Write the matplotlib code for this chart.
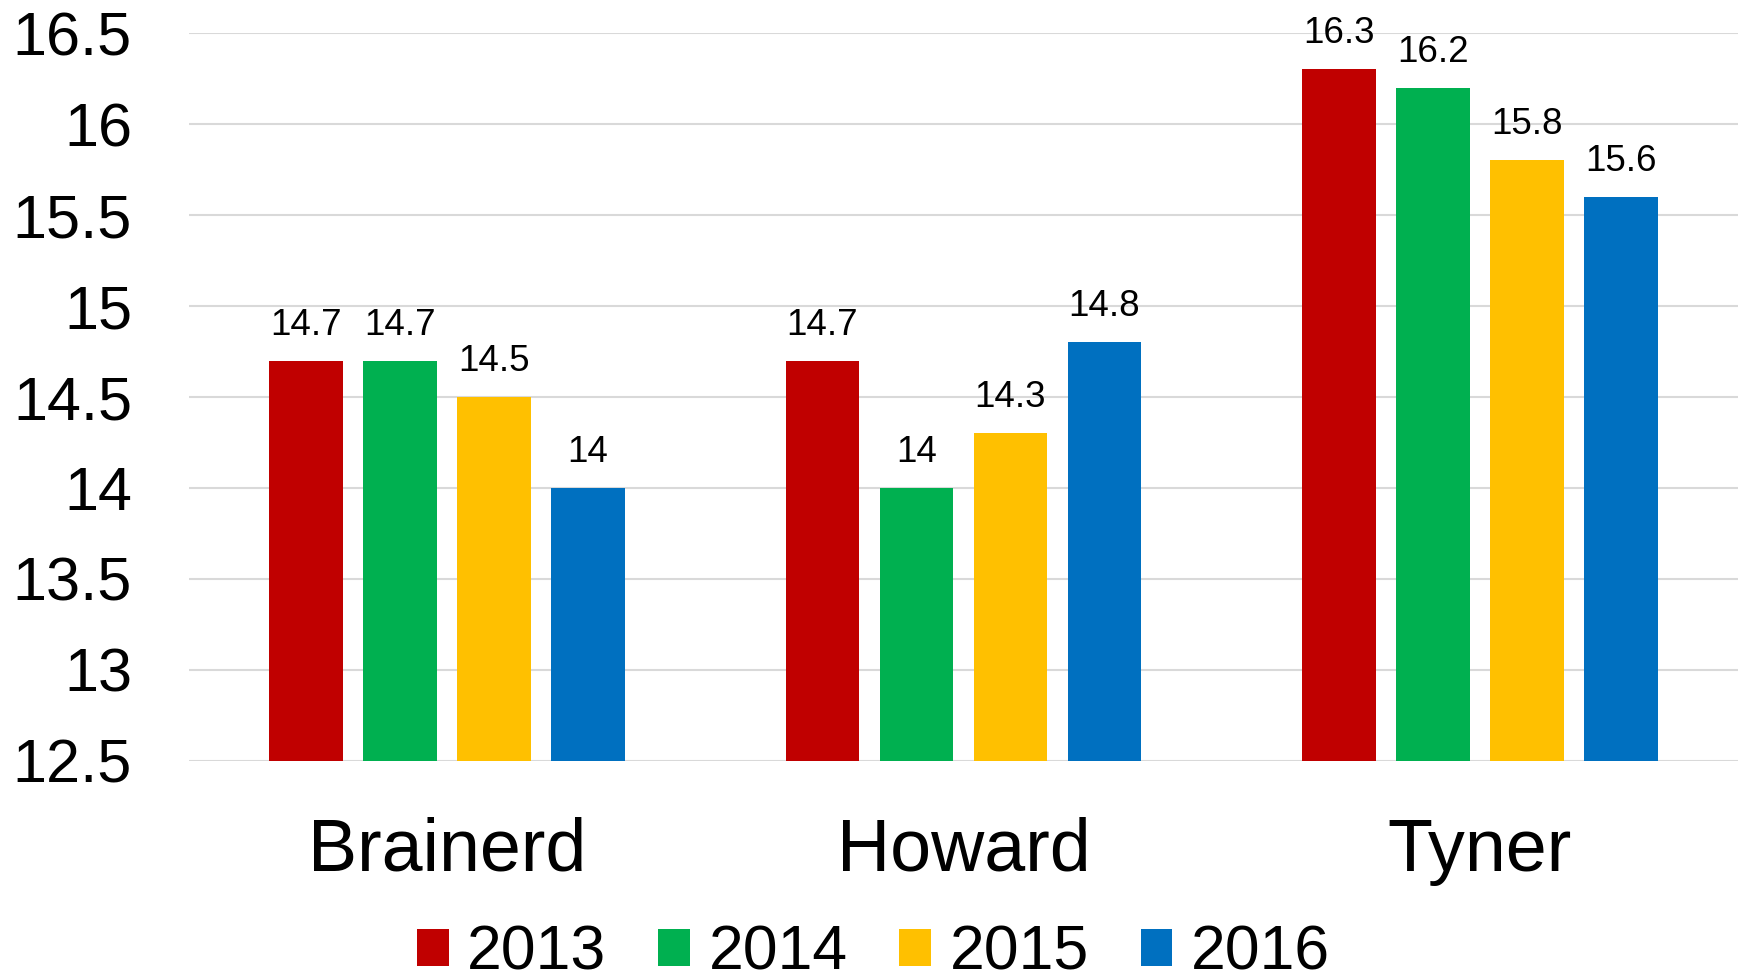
import numpy as np
import matplotlib.pyplot as plt

# ===================== DATA =====================
schools = ["Brainerd", "Howard", "Tyner"]
years = ["2013", "2014", "2015", "2016"]
values_2013 = [14.7, 14.7, 16.3]
values_2014 = [14.7, 14.0, 16.2]
values_2015 = [14.5, 14.3, 15.8]
values_2016 = [14.0, 14.8, 15.6]
colors = ["#C00000", "#00B050", "#FFC000", "#0070C0"]

plt.rcParams["font.family"] = ["Liberation Sans", "DejaVu Sans"]

fig = plt.figure(figsize=(17.47, 9.74), dpi=100)
ax = fig.add_axes([0.1082, 0.2187, 0.8866, 0.7474])

series = [values_2013, values_2014, values_2015, values_2016]
xpos = np.arange(len(schools))
width = 0.143
pitch = 0.182

for i, (vals, col, yr) in enumerate(zip(series, colors, years)):
    offs = (i - 1.5) * pitch
    bars = ax.bar(xpos + offs, np.array(vals) - 12.5, width, bottom=12.5,
                  color=col, label=yr, zorder=3)
    for b, v in zip(bars, vals):
        ax.annotate(f"{v:g}", (b.get_x() + b.get_width() / 2, v),
                    xytext=(0, 13), textcoords="offset points",
                    ha="center", va="bottom", fontsize=26.5, zorder=4)

ax.set_xlim(-0.5, 2.5)
ax.set_ylim(12.5, 16.5)
ax.set_yticks(np.arange(12.5, 16.51, 0.5))
ax.set_yticklabels([f"{t:g}" for t in np.arange(12.5, 16.51, 0.5)], fontsize=44)
ax.set_xticks(xpos)
ax.set_xticklabels(schools, fontsize=53)
ax.tick_params(axis="y", length=0, pad=41)
ax.tick_params(axis="x", length=0, pad=40)

ax.grid(axis="y", color="#D9D9D9", linewidth=1.5, zorder=0)
for s in ax.spines.values():
    s.set_visible(False)

fig.legend(loc="lower center", bbox_to_anchor=(0.5, -0.041), ncol=4,
           fontsize=45, frameon=False, handlelength=0.51, handleheight=0.51,
           handletextpad=0.29, columnspacing=0.83, borderpad=0)

fig.savefig("out.png", dpi=100)
